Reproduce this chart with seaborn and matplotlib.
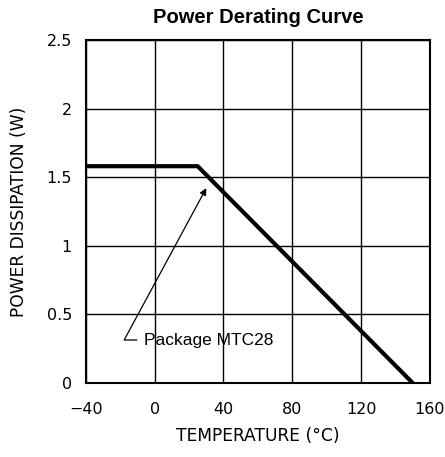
import matplotlib
matplotlib.use("Agg")
import matplotlib.pyplot as plt
import seaborn as sns
import pandas as pd

# derating curve
temperature = [-40, 25, 150]
power = [1.58, 1.58, 0]
x_ticks = [-40, 0, 40, 80, 120, 160]
y_ticks = [0, 0.5, 1, 1.5, 2, 2.5]
y_tick_labels = ["0", "0.5", "1", "1.5", "2", "2.5"]

df = pd.DataFrame({"temp": temperature, "power": power})

sns.set_style("white")
plt.rcParams["font.family"] = ["DejaVu Sans"]
plt.rcParams["text.color"] = "black"
plt.rcParams["axes.labelcolor"] = "black"

fig = plt.figure(figsize=(4.45, 4.57), dpi=100)
ax = fig.add_axes([0.193, 0.162, 0.773, 0.7505])

sns.lineplot(data=df, x="temp", y="power", color="black", linewidth=3, ax=ax)

ax.set_xlim(-40, 160)
ax.set_ylim(0, 2.5)
ax.set_xticks(x_ticks)
ax.set_xticklabels(["\u221240" if t == -40 else str(t) for t in x_ticks])
ax.set_yticks(y_ticks)
ax.set_yticklabels(y_tick_labels)
ax.grid(True, color="black", linewidth=1)
ax.tick_params(length=0, labelsize=11.5, colors="black")
ax.tick_params(axis="x", pad=14)
ax.tick_params(axis="y", pad=10)
for s in ax.spines.values():
    s.set_color("black")
    s.set_linewidth(1.5)

ax.set_xlabel("TEMPERATURE (\u00b0C)", fontsize=12.3, labelpad=7)
ax.set_ylabel("POWER DISSIPATION (W)", fontsize=12.3, labelpad=13)
ax.set_title("Power Derating Curve", fontsize=14.5, fontweight="bold",
             family="Liberation Sans", pad=12)

ax.annotate("Package MTC28", xy=(30, 1.42), xytext=(-6, 0.313),
            fontsize=12.5, family="Liberation Sans", ha="left", va="center",
            arrowprops=dict(arrowstyle="-|>", color="black", lw=0.9,
                            relpos=(0, 0.5), shrinkA=3, shrinkB=0,
                            mutation_scale=10,
                            connectionstyle="angle,angleA=0,angleB=61.6,rad=0"))

fig.savefig("out.png", dpi=100)
